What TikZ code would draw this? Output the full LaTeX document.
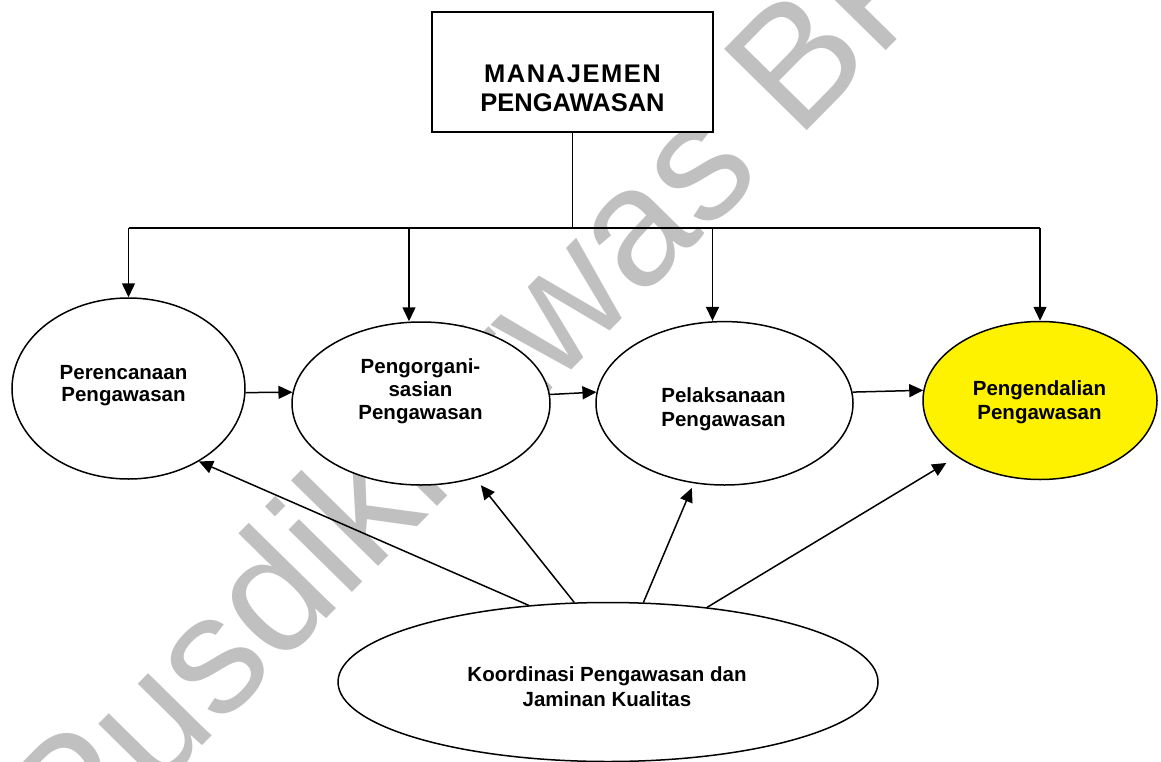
\documentclass[tikz,border=0pt]{standalone}
\usepackage{fontspec}
\setmainfont{Liberation Sans}
\usetikzlibrary{shapes.geometric,arrows.meta}
\definecolor{markgray}{HTML}{C0C0C0}
\begin{document}
\begin{tikzpicture}[x=1pt,y=-1pt,line width=1.5pt,
  arr/.style={-{Triangle[length=14pt,width=13pt]}},
  oval/.style={ellipse,draw,fill=white,inner sep=0pt},
  lbl/.style={font=\fontsize{20.5}{23.5}\selectfont\bfseries,align=center},
]
\useasboundingbox (0,0) rectangle (1161,762);

% watermark behind everything
\node[text=markgray,font=\fontsize{168.4}{168.4}\selectfont,rotate=45.47,anchor=base west,inner sep=0pt]
  (wm) at (75,875) {Pusdiklatwas BPKP};

% top box
\node[draw,fill=white,minimum width=281pt,minimum height=120pt,inner sep=0pt] (mgmt) at (572.5,72) {};
\node[font=\fontsize{25.5}{29}\selectfont\bfseries,align=center] (mgmtt) at (572.5,88.5)
  {{\addfontfeature{LetterSpace=6}MANAJEMEN}\\PENGAWASAN};

% process ellipses
\node[oval,minimum width=233pt,minimum height=181pt] (e1) at (128.5,388.5) {};
\node[oval,minimum width=258pt,minimum height=163pt] (e2) at (421,403.5) {};
\node[oval,minimum width=257pt,minimum height=163.4pt] (e3) at (724.5,403.3) {};
\node[oval,fill=yellow,minimum width=234pt,minimum height=158pt] (e4) at (1040,400.5) {};
\node[oval,minimum width=540pt,minimum height=159pt] (e5) at (608,682) {};

\node[lbl,font=\fontsize{20.5}{21.7}\selectfont\bfseries] (t1) at (123.5,385.7) {Perencanaan\\Pengawasan};
\node[lbl,font=\fontsize{20.5}{22.75}\selectfont\bfseries] (t2) at (420.5,391) {Pengorgani-\\sasian\\Pengawasan};
\node[lbl,font=\fontsize{20.5}{24}\selectfont\bfseries] (t3) at (723.5,409.5) {Pelaksanaan\\Pengawasan};
\node[lbl,font=\fontsize{20.5}{24}\selectfont\bfseries] (t4) at (1039.5,402.7) {Pengendalian\\Pengawasan};
\node[lbl,font=\fontsize{20.5}{25}\selectfont\bfseries] (t5) at (607,686.7) {Koordinasi Pengawasan dan\\Jaminan Kualitas};

% distribution bus
\coordinate (bus) at (572.5,228);
\coordinate (b1) at (128.5,228);
\coordinate (b2) at (409,228);
\coordinate (b3) at (712.5,228);
\coordinate (b4) at (1040,228);
\draw (mgmt.south) -- (bus);
\draw (b1) -- (b4);
\draw[arr] (b1) -- (b1 |- e1.north);
\draw[arr] (b2) -- (b2 |- e2.north);
\draw[arr] (b3) -- (b3 |- e3.north);
\draw[arr] (b4) -- (b4 |- e4.north);

% sequence arrows
\draw[arr] (e1.-2.07) -- (e2.175.2);
\draw[arr] (e2.4.8) -- (e3.175.2);
\draw[arr] (e3.5.2) -- (e4.175.7);

% coordination arrows
\draw[arr] (e5.136) -- (e1.-46.1);
\draw[arr,shorten >=9pt] (e5.113.9) -- (e2.-54.8);
\draw[arr,shorten >=5pt] (e5.66.75) -- (e3.-111.9);
\draw[arr,shorten >=12pt] (e5.37.2) -- (e4.-146.2);
\end{tikzpicture}
\end{document}
